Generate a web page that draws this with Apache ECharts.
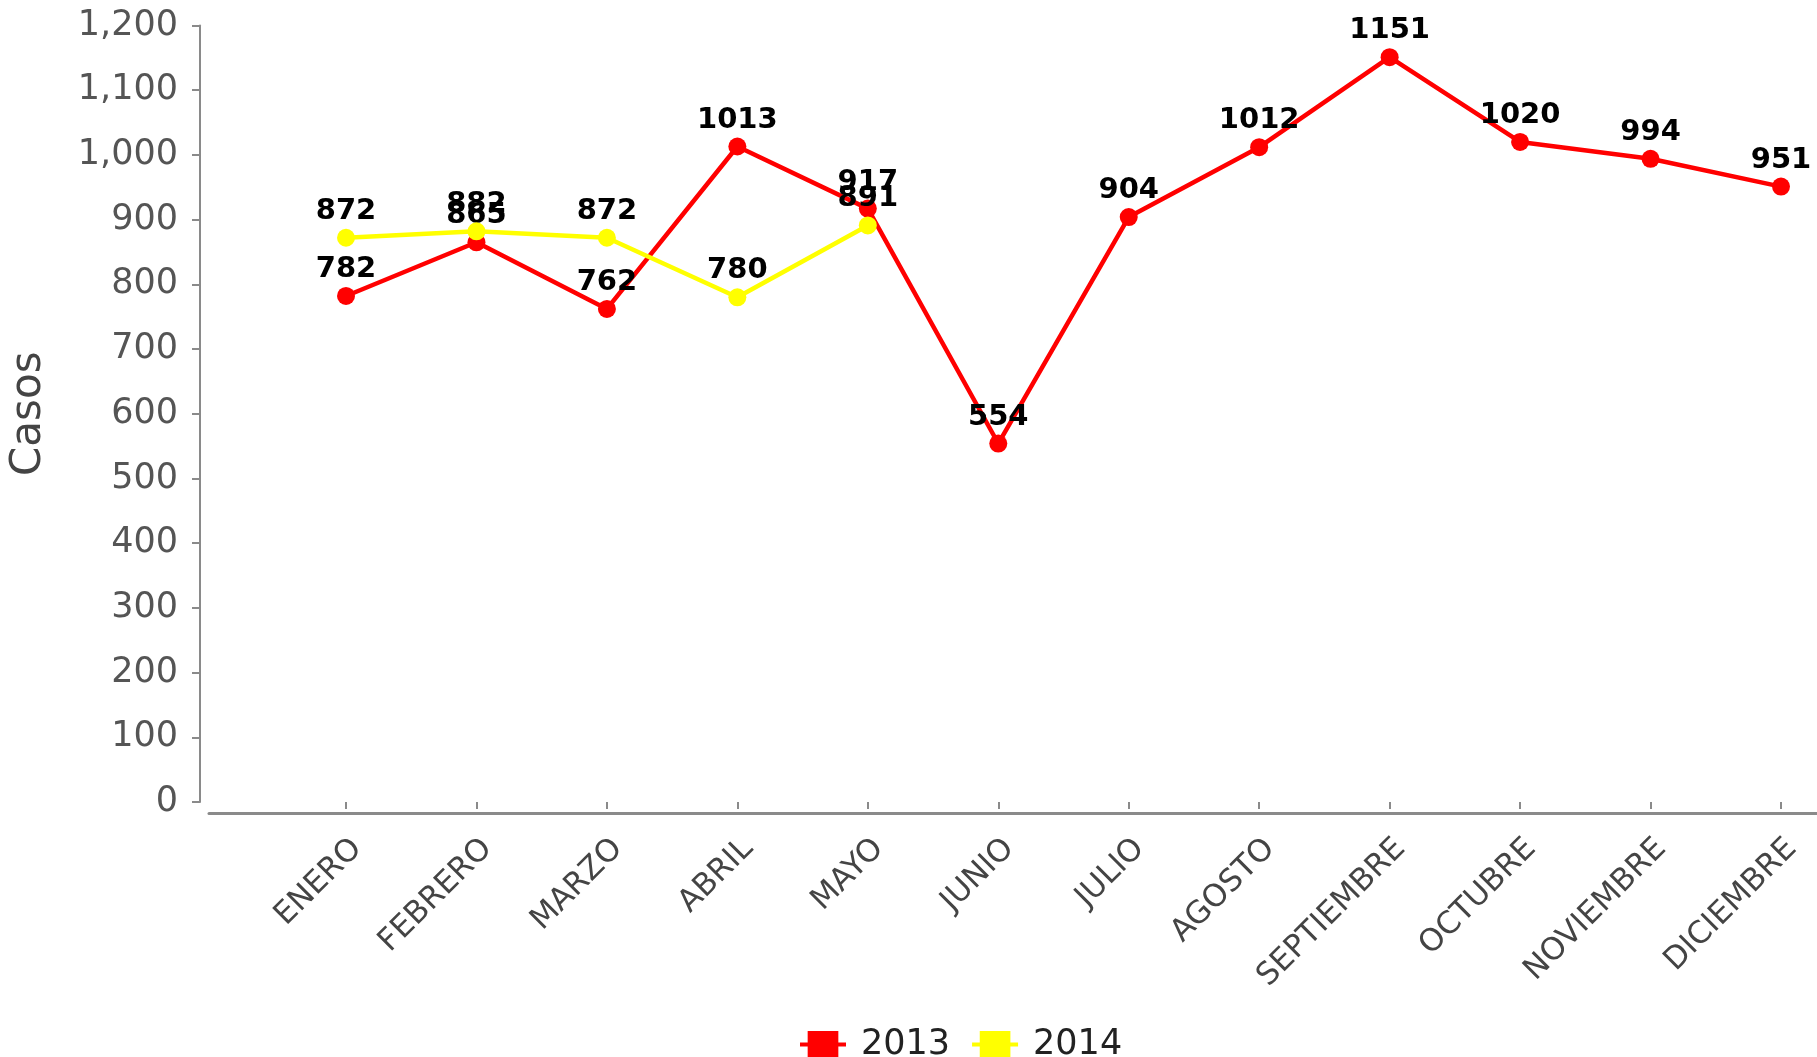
<!DOCTYPE html>
<html>
<head>
<meta charset="utf-8">
<script src="https://cdn.jsdelivr.net/npm/echarts@6/dist/echarts.min.js"></script>
<style>
html,body{margin:0;padding:0;background:#fff;}
#chart{width:1817px;height:1057px;}
</style>
</head>
<body>
<div id="chart"></div>
<script>
var months = ['ENERO','FEBRERO','MARZO','ABRIL','MAYO','JUNIO','JULIO','AGOSTO','SEPTIEMBRE','OCTUBRE','NOVIEMBRE','DICIEMBRE'];
var values2013 = [782, 865, 762, 1013, 917, 554, 904, 1012, 1151, 1020, 994, 951];
var values2014 = [872, 882, 872, 780, 891];
var seriesNames = ['2013', '2014'];
var yTicks = {min: 0, max: 1200, interval: 100};

var chart = echarts.init(document.getElementById('chart'), null, {renderer: 'canvas'});
var axisGray = '#8a8a8a';
var labelStyle = {show: true, position: 'top', distance: 3, color: '#000', fontWeight: 'bold', fontSize: 29, fontFamily: 'DejaVu Sans'};
var legendIcon = 'path://M0,12L48,12L48,16L0,16Z M8,0L40,0L40,28L8,28Z';

chart.setOption({
  animation: false,
  backgroundColor: '#ffffff',
  textStyle: {fontFamily: 'DejaVu Sans'},
  grid: [
    {left: 343, right: 36, top: 25.5, bottom: 255, containLabel: false},
    {left: 209, right: 0, top: 700, bottom: 244, containLabel: false}
  ],
  legend: {
    left: 795, top: 1022,
    itemWidth: 46, itemHeight: 28, itemGap: 22,
    data: [
      {name: seriesNames[0], icon: legendIcon},
      {name: seriesNames[1], icon: legendIcon}
    ],
    textStyle: {fontSize: 35, color: '#222', fontFamily: 'DejaVu Sans', padding: [0, 0, 0, 10]}
  },
  xAxis: [
    {
      type: 'category', gridIndex: 0, data: months, boundaryGap: false, offset: 11,
      axisLine: {show: false},
      axisTick: {show: true, alignWithLabel: true, length: 7, lineStyle: {color: axisGray, width: 2}},
      axisLabel: {rotate: 45, margin: 20, fontSize: 31, color: '#444', interval: 0, verticalAlign: 'top'}
    },
    {
      type: 'value', gridIndex: 1, min: 0, max: 1,
      axisLine: {show: true, lineStyle: {color: axisGray, width: 3}},
      axisTick: {show: false}, axisLabel: {show: false}, splitLine: {show: false}
    }
  ],
  yAxis: [
    {
      type: 'value', gridIndex: 0, min: yTicks.min, max: yTicks.max, interval: yTicks.interval, offset: 146,
      name: 'Casos', nameLocation: 'middle', nameRotate: 90, nameGap: 150,
      nameTextStyle: {fontSize: 42, color: '#444'},
      axisLine: {show: true, lineStyle: {color: axisGray, width: 2}},
      axisTick: {show: true, length: 8, lineStyle: {color: axisGray, width: 2}},
      axisLabel: {margin: 22, fontSize: 35, color: '#555', formatter: function (v) { return v.toLocaleString('en-US'); }},
      splitLine: {show: false}
    },
    {type: 'value', gridIndex: 1, show: false}
  ],
  series: [
    {
      name: seriesNames[0], type: 'line', xAxisIndex: 0, yAxisIndex: 0, data: values2013,
      symbol: 'circle', symbolSize: 18, color: '#ff0000',
      lineStyle: {color: '#ff0000', width: 4.5}, itemStyle: {color: '#ff0000'},
      label: labelStyle, z: 2
    },
    {
      name: seriesNames[1], type: 'line', xAxisIndex: 0, yAxisIndex: 0, data: values2014,
      symbol: 'circle', symbolSize: 18, color: '#ffff00',
      lineStyle: {color: '#ffff00', width: 4.5}, itemStyle: {color: '#ffff00'},
      label: labelStyle, z: 3
    }
  ]
});
</script>
</body>
</html>
